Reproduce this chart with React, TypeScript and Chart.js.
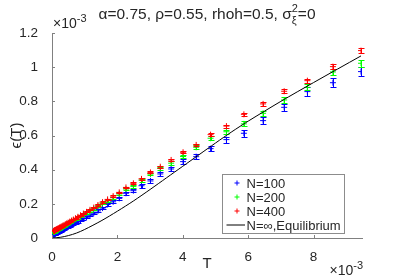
import React, { useEffect, useRef } from "react";
import { Chart, registerables } from "chart.js";

Chart.register(...registerables);

// T values (x 1e-3)
const T = [
  0.05, 0.055, 0.06, 0.066, 0.073, 0.08, 0.088, 0.097, 0.107, 0.118, 0.13, 0.143, 0.157, 0.173,
  0.19, 0.209, 0.23, 0.253, 0.278, 0.306, 0.336, 0.37, 0.407, 0.448, 0.492, 0.542, 0.596, 0.655,
  0.721, 0.793, 0.872, 0.96, 1.056, 1.161, 1.277, 1.405, 1.545, 1.7, 1.87, 2.057, 2.262, 2.489,
  2.737, 3.011, 3.312, 3.643, 4.008, 4.409, 4.849, 5.334, 5.868, 6.455, 7.1, 7.81, 8.591, 9.45,
];

// epsilon(T) (x 1e-3)
const epsN100 = [
  0.021, 0.021, 0.021, 0.021, 0.022, 0.023, 0.024, 0.025, 0.026, 0.027, 0.029, 0.03, 0.031, 0.032,
  0.034, 0.036, 0.039, 0.04, 0.043, 0.046, 0.05, 0.052, 0.057, 0.061, 0.065, 0.071, 0.076, 0.081,
  0.089, 0.096, 0.104, 0.113, 0.122, 0.133, 0.145, 0.159, 0.175, 0.196, 0.212, 0.232, 0.262, 0.277,
  0.306, 0.334, 0.375, 0.404, 0.447, 0.476, 0.523, 0.576, 0.613, 0.687, 0.765, 0.857, 0.909, 0.974,
];
const errN100 = [
  0.004, 0.004, 0.004, 0.004, 0.004, 0.004, 0.004, 0.004, 0.004, 0.004, 0.004, 0.004, 0.004, 0.004,
  0.005, 0.005, 0.005, 0.005, 0.005, 0.005, 0.005, 0.005, 0.005, 0.005, 0.005, 0.005, 0.005, 0.006,
  0.006, 0.006, 0.006, 0.006, 0.007, 0.007, 0.007, 0.008, 0.008, 0.008, 0.009, 0.009, 0.01, 0.01,
  0.011, 0.012, 0.012, 0.013, 0.014, 0.015, 0.016, 0.017, 0.019, 0.02, 0.022, 0.024, 0.025, 0.028,
];
const epsN200 = [
  0.035, 0.035, 0.036, 0.036, 0.037, 0.038, 0.039, 0.04, 0.041, 0.042, 0.044, 0.045, 0.047, 0.048,
  0.05, 0.052, 0.055, 0.057, 0.06, 0.063, 0.067, 0.07, 0.075, 0.079, 0.084, 0.09, 0.096, 0.102,
  0.11, 0.118, 0.127, 0.137, 0.147, 0.158, 0.171, 0.186, 0.203, 0.218, 0.236, 0.258, 0.287, 0.302,
  0.338, 0.374, 0.407, 0.438, 0.477, 0.531, 0.584, 0.622, 0.668, 0.73, 0.808, 0.882, 0.972, 1.023,
];
const errN200 = [
  0.003, 0.003, 0.003, 0.003, 0.003, 0.003, 0.003, 0.003, 0.003, 0.003, 0.003, 0.003, 0.003, 0.003,
  0.003, 0.003, 0.003, 0.003, 0.004, 0.004, 0.004, 0.004, 0.004, 0.004, 0.004, 0.004, 0.004, 0.004,
  0.004, 0.004, 0.005, 0.005, 0.005, 0.005, 0.005, 0.006, 0.006, 0.006, 0.006, 0.007, 0.007, 0.007,
  0.008, 0.008, 0.009, 0.01, 0.01, 0.011, 0.012, 0.013, 0.014, 0.015, 0.016, 0.017, 0.018, 0.02,
];
const epsN400 = [
  0.041, 0.041, 0.042, 0.042, 0.043, 0.044, 0.045, 0.046, 0.047, 0.048, 0.05, 0.051, 0.053, 0.054,
  0.056, 0.058, 0.061, 0.063, 0.066, 0.069, 0.073, 0.076, 0.081, 0.085, 0.09, 0.096, 0.102, 0.108,
  0.116, 0.124, 0.133, 0.143, 0.153, 0.165, 0.178, 0.193, 0.21, 0.226, 0.245, 0.267, 0.296, 0.32,
  0.346, 0.384, 0.417, 0.457, 0.502, 0.545, 0.605, 0.655, 0.724, 0.785, 0.859, 0.921, 1.003, 1.097,
];
const errN400 = [
  0.002, 0.002, 0.002, 0.002, 0.002, 0.002, 0.002, 0.002, 0.002, 0.002, 0.002, 0.002, 0.002, 0.002,
  0.002, 0.002, 0.002, 0.002, 0.002, 0.002, 0.002, 0.002, 0.003, 0.003, 0.003, 0.003, 0.003, 0.003,
  0.003, 0.003, 0.003, 0.003, 0.003, 0.004, 0.004, 0.004, 0.004, 0.004, 0.004, 0.005, 0.005, 0.005,
  0.006, 0.006, 0.006, 0.007, 0.007, 0.008, 0.008, 0.009, 0.01, 0.01, 0.011, 0.012, 0.013, 0.014,
];

// Equilibrium curve
const eqT = [0, 0.25, 0.5, 0.75, 1, 1.5, 2, 2.5, 3, 3.5, 4, 4.5, 5, 5.5, 6, 7, 8, 9.45];
const eqEps = [0, 0.004, 0.014, 0.029, 0.05, 0.1, 0.157, 0.218, 0.284, 0.352, 0.42, 0.488, 0.556, 0.622, 0.684, 0.8, 0.91, 1.066];

const xTicks = [0, 2, 4, 6, 8];
const xTickLabels = ["0", "2", "4", "6", "8"];
const yTicks = [0, 0.2, 0.4, 0.6, 0.8, 1, 1.2];
const yTickLabels = ["0", "0.2", "0.4", "0.6", "0.8", "1", "1.2"];
const xMax = 9.48;
const yMax = 1.2;

const seriesNames = ["N=100", "N=200", "N=400", "N=\u221E,Equilibrium"];
const seriesColors = ["#0000ff", "#00ff00", "#ff0000", "#000000"];

const FONT = "'Liberation Sans', Arial, Helvetica, sans-serif";
const TEXT = "#262626";
const AXIS = "#808080";

const pts = (xs: number[], ys: number[]) => xs.map((x, i) => ({ x, y: ys[i] }));

const errorBarPlugin = {
  id: "errbars",
  afterDatasetDraw(chart: any, args: any) {
    const ds = chart.data.datasets[args.index];
    if (!ds.errors) return;
    const ctx = chart.ctx;
    const xs = chart.scales.x;
    const ys = chart.scales.y;
    ctx.save();
    ctx.beginPath();
    ctx.rect(chart.chartArea.left, 0, chart.chartArea.right - chart.chartArea.left + 4, chart.chartArea.bottom);
    ctx.clip();
    ctx.strokeStyle = ds.borderColor;
    ctx.lineWidth = 1;
    ds.data.forEach((p: any, i: number) => {
      const e = ds.errors[i];
      const px = Math.round(xs.getPixelForValue(p.x)) + 0.5;
      const y1 = Math.round(ys.getPixelForValue(p.y - e)) + 0.5;
      const y2 = Math.round(ys.getPixelForValue(p.y + e)) + 0.5;
      ctx.beginPath();
      ctx.moveTo(px, y1);
      ctx.lineTo(px, y2);
      ctx.moveTo(px - 3, y1);
      ctx.lineTo(px + 3, y1);
      ctx.moveTo(px - 3, y2);
      ctx.lineTo(px + 3, y2);
      ctx.stroke();
    });
    ctx.restore();
  },
};

const decorPlugin = {
  id: "decor",
  afterDraw(chart: any) {
    const ctx = chart.ctx;
    const a = chart.chartArea;
    const xs = chart.scales.x;
    const ys = chart.scales.y;
    ctx.save();
    // inward ticks
    ctx.strokeStyle = AXIS;
    ctx.lineWidth = 1;
    ctx.beginPath();
    xTicks.forEach((v) => {
      const px = Math.round(xs.getPixelForValue(v)) + 0.5;
      ctx.moveTo(px, a.bottom);
      ctx.lineTo(px, a.bottom - 3);
    });
    yTicks.forEach((v) => {
      const py = Math.round(ys.getPixelForValue(v)) + 0.5;
      ctx.moveTo(a.left, py);
      ctx.lineTo(a.left + 3, py);
    });
    ctx.stroke();

    ctx.fillStyle = TEXT;
    // exponent labels
    const drawExp = (x: number, y: number, align: "left" | "right") => {
      ctx.font = `14px ${FONT}`;
      const w1 = ctx.measureText("\u00D710").width;
      ctx.font = `11px ${FONT}`;
      const w2 = ctx.measureText("-3").width;
      const x0 = align === "left" ? x : x - w1 - w2;
      ctx.textAlign = "left";
      ctx.textBaseline = "alphabetic";
      ctx.font = `14px ${FONT}`;
      ctx.fillText("\u00D710", x0, y);
      ctx.font = `11px ${FONT}`;
      ctx.fillText("-3", x0 + w1, y - 6);
    };
    drawExp(a.left + 1, 28, "left");
    drawExp(a.right + 1, 275, "right");

    // title
    const tSize = 15.5;
    const sSize = 11;
    const main = "\u03B1=0.75, \u03C1=0.55, rhoh=0.5, \u03C3";
    ctx.font = `${tSize}px ${FONT}`;
    const wMain = ctx.measureText(main).width;
    ctx.font = `${sSize}px ${FONT}`;
    const wSup = Math.max(ctx.measureText("2").width, ctx.measureText("\u03BE").width);
    ctx.font = `${tSize}px ${FONT}`;
    const wEnd = ctx.measureText("=0").width;
    const total = wMain + wSup + wEnd;
    const tx = (a.left + a.right) / 2 - total / 2;
    const ty = 19;
    ctx.textAlign = "left";
    ctx.font = `${tSize}px ${FONT}`;
    ctx.fillText(main, tx, ty);
    ctx.font = `${sSize}px ${FONT}`;
    ctx.fillText("2", tx + wMain, ty - 7);
    ctx.fillText("\u03BE", tx + wMain, ty + 5);
    ctx.font = `${tSize}px ${FONT}`;
    ctx.fillText("=0", tx + wMain + wSup, ty);

    // axis titles
    ctx.font = `15px ${FONT}`;
    ctx.textAlign = "center";
    ctx.textBaseline = "middle";
    ctx.fillText("T", (a.left + a.right) / 2, 264);
    ctx.save();
    ctx.translate(17, (a.top + a.bottom) / 2);
    ctx.rotate(-Math.PI / 2);
    ctx.fillText("\u03F5(T)", 0, 0);
    ctx.restore();

    // legend
    const bx = a.right - 139.5;
    const by = a.bottom - 63.5;
    const bw = 122;
    const bh = 59;
    ctx.fillStyle = "#ffffff";
    ctx.fillRect(bx, by, bw, bh);
    ctx.strokeStyle = "#8c8c8c";
    ctx.lineWidth = 1;
    ctx.strokeRect(bx, by, bw, bh);
    ctx.font = `13px ${FONT}`;
    ctx.textAlign = "left";
    ctx.textBaseline = "middle";
    seriesNames.forEach((name, i) => {
      const cy = by + 8.5 + i * 14;
      const mx = bx + 14.5;
      ctx.strokeStyle = seriesColors[i];
      ctx.beginPath();
      if (i < 3) {
        ctx.moveTo(mx - 2.5, cy);
        ctx.lineTo(mx + 2.5, cy);
        ctx.moveTo(mx, cy - 2.5);
        ctx.lineTo(mx, cy + 2.5);
      } else {
        ctx.moveTo(bx + 4, cy);
        ctx.lineTo(bx + 22.5, cy);
      }
      ctx.stroke();
      ctx.fillStyle = TEXT;
      ctx.fillText(name, bx + 24, cy + 1);
    });
    ctx.restore();
  },
};

export default function App() {
  const ref = useRef<HTMLCanvasElement | null>(null);
  useEffect(() => {
    document.body.style.margin = "0";
    const canvas = ref.current!;
    const mk = (label: string, ys: number[], errs: number[], color: string, order: number) => ({
      type: "scatter" as const,
      label,
      data: pts(T, ys),
      errors: errs,
      borderColor: color,
      backgroundColor: color,
      pointStyle: "cross",
      pointRadius: 3,
      pointBorderWidth: 1,
      showLine: false,
      order,
    });
    const chart = new Chart(canvas, {
      type: "scatter",
      data: {
        datasets: [
          mk(seriesNames[0], epsN100, errN100, seriesColors[0], 3),
          mk(seriesNames[1], epsN200, errN200, seriesColors[1], 2),
          mk(seriesNames[2], epsN400, errN400, seriesColors[2], 1),
          {
            type: "line" as const,
            label: seriesNames[3],
            data: pts(eqT, eqEps),
            borderColor: "#000000",
            borderWidth: 1,
            pointRadius: 0,
            tension: 0.3,
            fill: false,
            order: 0,
          } as any,
        ],
      },
      options: {
        animation: false,
        responsive: false,
        devicePixelRatio: 1,
        layout: { padding: { top: 33, right: 37, left: 0, bottom: 0 } },
        plugins: { legend: { display: false }, title: { display: false }, tooltip: { enabled: false } },
        font: { family: FONT },
        scales: {
          x: {
            type: "linear",
            min: 0,
            max: xMax,
            grid: { display: false },
            border: { display: true, color: AXIS, width: 1 },
            afterBuildTicks: (s: any) => {
              s.ticks = xTicks.map((v) => ({ value: v }));
            },
            afterFit: (s: any) => {
              s.height = 41;
            },
            ticks: {
              padding: 3,
              color: TEXT,
              font: { family: FONT, size: 13.5 },
              maxRotation: 0,
              callback: (v: any) => xTickLabels[xTicks.indexOf(Number(v))] ?? "",
            },
          },
          y: {
            type: "linear",
            min: 0,
            max: yMax,
            grid: { display: false },
            border: { display: true, color: AXIS, width: 1 },
            afterBuildTicks: (s: any) => {
              s.ticks = yTicks.map((v) => ({ value: v }));
            },
            afterFit: (s: any) => {
              s.width = 52;
            },
            ticks: {
              padding: 6,
              color: TEXT,
              font: { family: FONT, size: 13.5 },
              callback: (v: any) => {
                const i = yTicks.findIndex((t) => Math.abs(t - Number(v)) < 1e-9);
                return i >= 0 ? yTickLabels[i] : "";
              },
            },
          },
        },
      } as any,
      plugins: [errorBarPlugin, decorPlugin],
    });
    return () => chart.destroy();
  }, []);
  return (
    <div style={{ position: "absolute", left: 0, top: 0, width: 399, height: 279, background: "#fff" }}>
      <canvas ref={ref} width={399} height={279} style={{ width: 399, height: 279, display: "block" }} />
    </div>
  );
}
